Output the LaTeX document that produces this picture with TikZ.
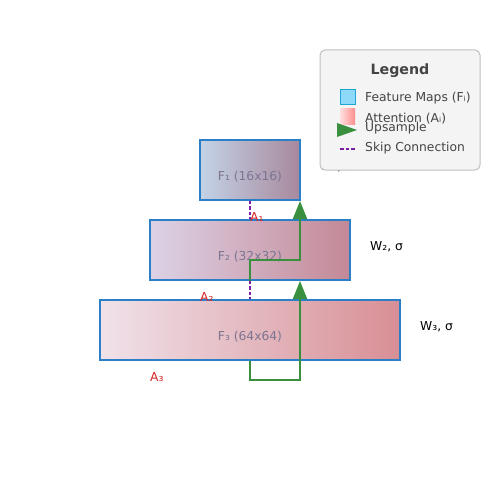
\documentclass[tikz,border=0pt]{standalone}
\usepackage{fontspec}
\setmainfont{DejaVu Sans}
\usetikzlibrary{arrows.meta,positioning}
\definecolor{fmblue}{HTML}{2A7FC6}
\definecolor{boxtext}{HTML}{7C7592}
\definecolor{attred}{HTML}{D62728}
\definecolor{upgreen}{HTML}{3A8F3E}
\definecolor{skippurple}{HTML}{7B1FA2}
\definecolor{legfill}{HTML}{F4F4F4}
\definecolor{legdraw}{HTML}{C0C0C0}
\definecolor{legtext}{HTML}{444444}
\definecolor{bAl}{HTML}{C3D3E7}\definecolor{bAr}{HTML}{A8889C}
\definecolor{bBl}{HTML}{DCD2E6}\definecolor{bBr}{HTML}{C48896}
\definecolor{bCl}{HTML}{F0E2EA}\definecolor{bCr}{HTML}{D88F95}
\begin{document}
\begin{tikzpicture}[x=1pt,y=-1pt,
  fmap/.style={draw=fmblue,line width=1.5pt,minimum height=60pt,inner sep=0pt},
  fmtext/.style={text=boxtext,font=\fontsize{12.3}{14}\selectfont,inner sep=0pt},
  skipline/.style={skippurple,dash pattern=on 3.5pt off 2pt,line width=1.5pt},
  upline/.style={upgreen,line width=2pt},
  uparrow/.style={upline,-{Triangle[width=14pt,length=18pt]}},
  alabel/.style={text=attred,font=\fontsize{12.3}{14}\selectfont,anchor=west,inner sep=0pt},
  wlabel/.style={text=black,font=\fontsize{12.3}{14}\selectfont,anchor=west,inner sep=0pt},
  legtxt/.style={text=legtext,font=\fontsize{12.3}{14}\selectfont,anchor=west,inner sep=0pt}]
\useasboundingbox (0,0) rectangle (500,500);
\fill[white] (0,0) rectangle (500,500);
% feature map boxes
\node[fmap,minimum width=100pt,left color=bAl,right color=bAr] (F1) at (250,170) {};
\node[fmap,minimum width=200pt,left color=bBl,right color=bBr] (F2) at (250,250) {};
\node[fmap,minimum width=300pt,left color=bCl,right color=bCr] (F3) at (250,330) {};
\node[fmtext] (T1) at (250,177) {F₁ (16x16)};
\node[fmtext] (T2) at (250,257) {F₂ (32x32)};
\node[fmtext] (T3) at (250,337) {F₃ (64x64)};
% skip connections
\draw[skipline] (F1.south) -- (F2.north);
\draw[skipline] (F2.south) -- (F3.north);
% upsample paths
\coordinate (u3a) at (250,380);
\coordinate (u3b) at (300,380);
\coordinate (u3t) at (300,281);
\draw[uparrow] (F3.south) -- (u3a) -- (u3b) -- (u3t);
\coordinate (u2a) at (250,260);
\coordinate (u2b) at (300,260);
\coordinate (u2t) at (300,201);
\draw[uparrow] (F2.south) -- (u2a) -- (u2b) -- (u2t);
% attention labels
\node[alabel] (A1) at (250,217) {A₁};
\node[alabel] (A2) at (200,297) {A₂};
\node[alabel] (A3) at (150,377) {A₃};
% weight labels
\node[wlabel] (W1) at (320,167) {W₁, σ};
\node[wlabel] (W2) at (370,247) {W₂, σ};
\node[wlabel] (W3) at (420,327) {W₃, σ};
% legend
\draw[fill=legfill,draw=legdraw,line width=1pt,rounded corners=5pt] (320,50) rectangle (480,170);
\node[text=legtext,font=\bfseries\fontsize{14.2}{16}\selectfont] (LT) at (400,71) {Legend};
\draw[fill=cyan!45!white,draw=fmblue!70!cyan,line width=1pt] (340,90) rectangle (355,105);
\node[legtxt] (L1) at (365,98) {Feature Maps (Fᵢ)};
\shade[left color=red!12!white,right color=red!45!white] (340,109) rectangle (355,124);
\node[legtxt] (L2) at (365,118.5) {Attention (Aᵢ)};
\fill[upgreen] (337,123) -- (357,130) -- (337,137) -- cycle;
\node[legtxt] (L3) at (365,128) {Upsample};
\draw[skipline] (340,149) -- (355,149);
\node[legtxt] (L4) at (365,148.5) {Skip Connection};
\end{tikzpicture}
\end{document}
